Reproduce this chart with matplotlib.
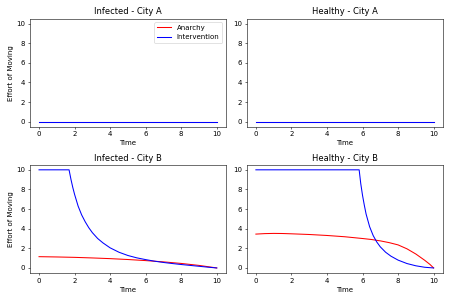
import matplotlib
matplotlib.use("Agg")
import matplotlib.pyplot as plt

# City A: everything stays at zero
t_a = [0, 10]
anarchy_inf_a = [0, 0]
interv_inf_a = [0, 0]
anarchy_hea_a = [0, 0]
interv_hea_a = [0, 0]

# City B, infected
t_anar_inf_b = [0, 1, 2, 3, 4, 5, 6, 7, 8, 9, 10]
anarchy_inf_b = [1.15, 1.12, 1.08, 1.02, 0.95, 0.86, 0.75, 0.62, 0.46, 0.26, 0.0]
t_int_inf_b = [0, 1.69, 1.8, 1.9, 2.0, 2.2, 2.4, 2.6, 2.8, 3.0, 3.3, 3.6, 4.0,
               4.5, 5.0, 5.5, 6.0, 6.5, 7.0, 7.5, 8.0, 8.5, 9.0, 9.5, 10]
interv_inf_b = [10, 10, 9.0, 8.2, 7.5, 6.3, 5.4, 4.7, 4.1, 3.6, 3.0, 2.55, 2.05,
                1.6, 1.27, 1.03, 0.85, 0.69, 0.56, 0.45, 0.35, 0.26, 0.17, 0.08, 0.0]

# City B, healthy
t_anar_hea_b = [0, 0.5, 1, 1.5, 2, 3, 4, 5, 6, 6.5, 7, 7.5, 8, 8.5, 9, 9.5, 9.8, 10]
anarchy_hea_b = [3.45, 3.5, 3.52, 3.51, 3.48, 3.41, 3.31, 3.18, 3.0, 2.9, 2.76,
                 2.58, 2.35, 1.95, 1.42, 0.78, 0.35, 0.0]
t_int_hea_b = [0, 5.81, 5.9, 6.0, 6.1, 6.2, 6.4, 6.6, 6.8, 7.0, 7.3, 7.6, 8.0,
               8.5, 9.0, 9.5, 10]
interv_hea_b = [10, 10, 8.6, 7.4, 6.4, 5.5, 4.2, 3.3, 2.65, 2.15, 1.6, 1.2, 0.8,
                0.45, 0.22, 0.07, 0.0]

panels = [
    ("Infected - City A", t_a, anarchy_inf_a, t_a, interv_inf_a),
    ("Healthy - City A", t_a, anarchy_hea_a, t_a, interv_hea_a),
    ("Infected - City B", t_anar_inf_b, anarchy_inf_b, t_int_inf_b, interv_inf_b),
    ("Healthy - City B", t_anar_hea_b, anarchy_hea_b, t_int_hea_b, interv_hea_b),
]

fig, axes = plt.subplots(2, 2, figsize=(9, 6), dpi=50)
for i, (ax, (titulo, ta, ya, ti, yi)) in enumerate(zip(axes.flat, panels)):
    ax.plot(ta, ya, color="red", label="Anarchy")
    ax.plot(ti, yi, color="blue", label="Intervention")
    ax.set_ylim(-0.5, 10.5)
    ax.set_xticks([0, 2, 4, 6, 8, 10])
    ax.set_yticks([0, 2, 4, 6, 8, 10])
    ax.set_title(titulo)
    ax.set_xlabel("Time")
    if i % 2 == 0:
        ax.set_ylabel("Effort of Moving")
    if i == 0:
        ax.legend(loc="upper right")

fig.tight_layout()
fig.savefig("out.png", dpi=50)
